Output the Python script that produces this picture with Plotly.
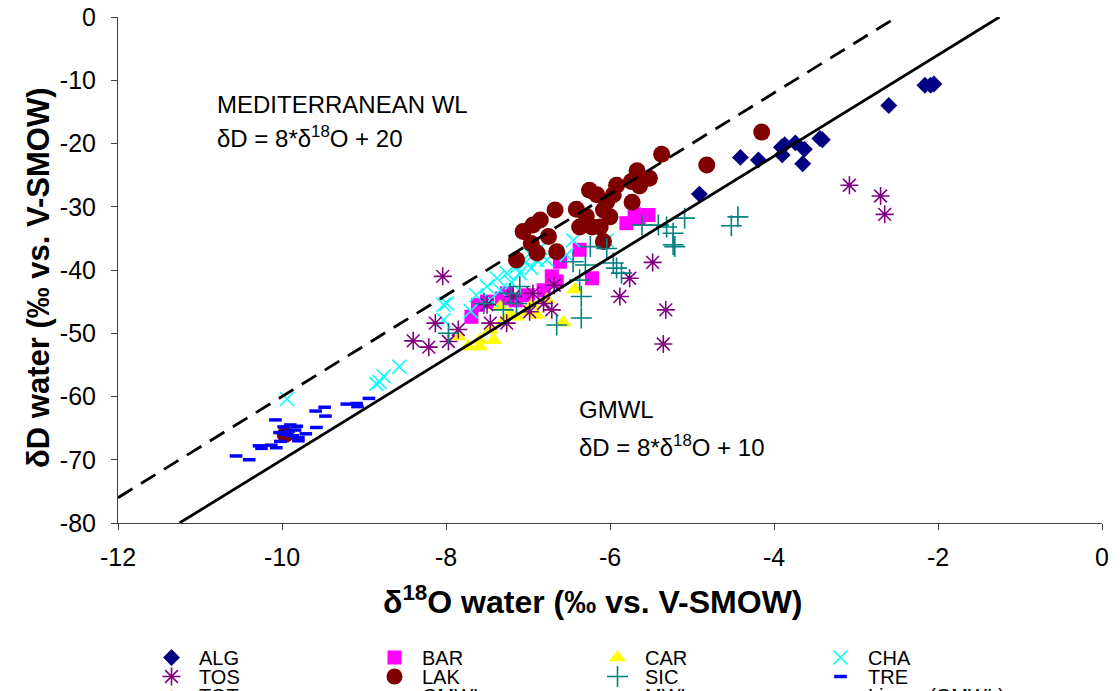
import plotly.graph_objects as go

# ---------------- data ----------------
alg_x = [-4.91, -4.41, -4.19, -3.91, -3.87, -3.90, -3.74, -3.63, -3.65, -3.44, -3.41, -2.60, -2.16, -2.09, -2.05]
alg_y = [-28.0, -22.2, -22.6, -20.6, -20.2, -21.8, -19.9, -20.9, -23.2, -19.2, -19.4, -14.0, -10.8, -10.8, -10.6]

bar_x = [-5.65, -5.53, -5.80, -5.70, -6.37, -6.61, -6.22, -6.71, -6.65, -6.81, -7.00, -7.26, -7.32, -7.61, -7.69, -7.50, -7.15]
bar_y = [-31.8, -31.3, -32.6, -31.2, -36.8, -38.7, -41.3, -41.0, -41.8, -43.2, -44.0, -43.7, -44.5, -45.5, -47.4, -45.0, -44.8]

car_x = [-6.43, -6.57, -6.77, -6.89, -7.02, -7.14, -7.34, -7.46, -7.59, -7.73, -7.85, -7.42, -7.59, -7.22, -6.95, -7.30]
car_y = [-43.1, -48.3, -44.7, -47.1, -46.6, -47.4, -45.8, -49.5, -51.1, -52.1, -50.5, -51.1, -52.1, -47.0, -45.5, -48.2]

cha_x = [-9.94, -8.81, -8.76, -8.57, -8.85, -8.03, -8.03, -7.99, -7.63, -7.50, -7.38, -7.26, -7.14, -7.02,
         -6.89, -6.77, -6.96, -6.53, -6.45, -6.04, -7.34, -7.46, -6.98, -7.10, -7.20, -6.85, -7.70]
cha_y = [-60.4, -57.7, -56.8, -55.3, -58.0, -45.5, -47.9, -45.3, -44.0, -42.6, -41.3, -40.5, -39.5, -38.7,
         -38.4, -38.4, -39.7, -37.6, -35.3, -35.3, -43.2, -44.7, -37.4, -40.5, -42.0, -36.5, -46.5]

tos_x = [-8.04, -8.13, -8.40, -8.21, -7.85, -7.97, -7.50, -7.46, -7.26, -6.98, -6.81, -6.71, -6.68, -6.94,
         -7.18, -5.76, -5.48, -5.88, -5.32, -5.35, -3.08, -2.70, -2.65]
tos_y = [-41.0, -48.4, -51.2, -52.2, -49.4, -51.3, -45.5, -48.4, -48.4, -46.6, -45.3, -46.3, -42.4, -43.7,
         -44.2, -41.3, -38.8, -44.2, -46.3, -51.7, -26.6, -28.3, -31.2]

lak_x = [-4.15, -4.82, -5.37, -5.67, -5.52, -5.64, -5.74, -5.92, -5.73, -6.00, -6.08, -6.25, -6.16, -5.96,
         -6.04, -6.41, -6.67, -6.08, -6.29, -6.37, -6.22, -6.12, -6.85, -6.94, -7.06, -6.75, -6.96, -6.65,
         -6.89, -7.14, -9.96]
lak_y = [-18.2, -23.4, -21.7, -24.3, -25.5, -26.7, -26.0, -26.6, -29.3, -31.6, -35.5, -27.4, -28.1, -28.1,
         -29.2, -30.4, -30.5, -30.5, -31.5, -33.2, -33.2, -33.2, -32.1, -32.9, -33.9, -34.7, -35.8, -37.1,
         -37.3, -38.4, -66.0]

sic_x = [-5.09, -5.21, -5.23, -5.31, -5.61, -5.41, -6.04, -6.24, -5.96, -5.92, -5.86, -6.35, -6.35, -6.65,
         -6.37, -6.30, -6.45, -7.10, -7.22, -7.14, -7.30, -7.97, -7.54, -4.44, -4.52, -5.23]
sic_y = [-31.8, -36.3, -34.2, -33.2, -32.9, -32.9, -36.6, -36.3, -38.9, -39.7, -40.5, -44.2, -47.6, -48.7,
         -41.6, -39.2, -38.7, -42.6, -43.7, -45.3, -46.3, -50.0, -45.3, -31.6, -33.0, -36.0]

tre_x = [-10.56, -10.40, -10.28, -10.25, -10.13, -10.07, -10.08, -10.03, -10.02, -9.98, -9.90, -9.82, -9.84,
         -9.80, -9.80, -9.71, -9.58, -9.59, -9.48, -9.47, -9.21, -9.09, -9.08, -8.94, -9.95, -9.92, -9.87]
tre_y = [-69.4, -70.0, -67.8, -68.2, -67.7, -68.1, -63.7, -65.7, -67.1, -64.8, -64.5, -64.7, -65.3,
         -66.5, -67.0, -65.9, -64.9, -62.3, -61.7, -63.1, -61.2, -61.1, -61.6, -60.3, -66.0, -65.5, -66.2]

# series listed in the legend without visible points in the plot area
tot_x = [None]
tot_y = [None]

# meteoric water lines (end points of δD = 8*δ18O + 20 and δD = 8*δ18O + 10 inside the axes)
mwl_x = [-12.0, -2.5]
mwl_y = [-76.0, 0.0]
gmwl_x = [-11.25, -1.25]
gmwl_y = [-80.0, 0.0]

x_ticks = [-12, -10, -8, -6, -4, -2, 0]
y_ticks = [0, -10, -20, -30, -40, -50, -60, -70, -80]

FONT = "Arial, 'Liberation Sans', sans-serif"

fig = go.Figure()

series = [
    ("ALG", alg_x, alg_y, dict(symbol="diamond", size=13, color="#000080"), "legend"),
    ("BAR", bar_x, bar_y, dict(symbol="square", size=14, color="#FF00FF"), "legend"),
    ("CAR", car_x, car_y, dict(symbol="triangle-up", size=15, color="#FFFF00"), "legend"),
    ("CHA", cha_x, cha_y, dict(symbol="x-thin-open", size=14, color="#00FFFF",
                               line=dict(width=1.6, color="#00FFFF")), "legend"),
    ("TOS", tos_x, tos_y, dict(symbol="asterisk-open", size=15, color="#800080",
                               line=dict(width=1.6, color="#800080")), "legend2"),
    ("LAK", lak_x, lak_y, dict(symbol="circle", size=17, color="#800000"), "legend2"),
    ("SIC", sic_x, sic_y, dict(symbol="cross-thin-open", size=15, color="#008080",
                               line=dict(width=1.6, color="#008080")), "legend2"),
    ("TRE", tre_x, tre_y, dict(symbol="line-ew-open", size=9, color="#0000FF",
                               line=dict(width=3.5, color="#0000FF")), "legend2"),
]
for name, xs, ys, mk, lg in series:
    fig.add_trace(go.Scatter(x=xs, y=ys, mode="markers", name=name, marker=mk, legend=lg))

fig.add_trace(go.Scatter(x=tot_x, y=tot_y, mode="markers", name="TOT", legend="legend3",
                         marker=dict(symbol="circle", size=10, color="#FF9900")))
fig.add_trace(go.Scatter(x=gmwl_x, y=gmwl_y, mode="lines", name="GMWL", legend="legend3",
                         line=dict(color="black", width=2.8)))
fig.add_trace(go.Scatter(x=mwl_x, y=mwl_y, mode="lines", name="MWL", legend="legend3",
                         line=dict(color="black", width=2.8, dash="17px,10px")))
fig.add_trace(go.Scatter(x=tot_x, y=tot_y, mode="lines", name="Linear (GMWL)", legend="legend3",
                         line=dict(color="black", width=2.8)))

axis_common = dict(
    showgrid=False, zeroline=False, showline=True, linecolor="#404040", linewidth=1,
    ticks="outside", ticklen=6, tickcolor="#404040", tickwidth=1,
    tickfont=dict(family=FONT, size=25, color="black"), mirror=False,
)

fig.update_xaxes(range=[-12, 0], tickvals=x_ticks, ticktext=[str(v) for v in x_ticks],
                 ticklabelstandoff=6, **axis_common)
fig.update_yaxes(range=[-80, 0], tickvals=y_ticks, ticktext=[str(v) for v in y_ticks],
                 ticklabelstandoff=10, **axis_common)

fig.add_annotation(x=(592 - 118) / 984, y=(523 - 600) / 506, xref="paper", yref="paper",
                   text="<b>δ<sup>18</sup>O water (‰ vs. V-SMOW)</b>", showarrow=False,
                   xanchor="center", yanchor="middle",
                   font=dict(family=FONT, size=32, color="black"))
fig.add_annotation(x=(38 - 118) / 984, y=(523 - 278) / 506, xref="paper", yref="paper",
                   text="<b>δD water (‰ vs. V-SMOW)</b>", showarrow=False, textangle=-90,
                   xanchor="center", yanchor="middle",
                   font=dict(family=FONT, size=31, color="black"))

ann_font = dict(family=FONT, size=24, color="black")
fig.add_annotation(x=-10.82, y=-13.8, xref="x", yref="y", text="MEDITERRANEAN WL",
                   showarrow=False, xanchor="left", yanchor="middle", font=ann_font)
fig.add_annotation(x=-10.82, y=-19.0, xref="x", yref="y", text="δD = 8*δ<sup>18</sup>O + 20",
                   showarrow=False, xanchor="left", yanchor="middle", font=ann_font)
fig.add_annotation(x=-6.40, y=-62.1, xref="x", yref="y", text="GMWL",
                   showarrow=False, xanchor="left", yanchor="middle", font=ann_font)
fig.add_annotation(x=-6.40, y=-67.8, xref="x", yref="y", text="δD = 8*δ<sup>18</sup>O + 10",
                   showarrow=False, xanchor="left", yanchor="middle", font=ann_font)

def legend_row(top_px):
    return dict(orientation="h", xref="container", yref="container",
                x=144 / 1120, y=1 - top_px / 691, xanchor="left", yanchor="top",
                entrywidth=163, entrywidthmode="pixels", itemwidth=45,
                font=dict(family=FONT, size=20, color="black"),
                bgcolor="rgba(0,0,0,0)", traceorder="normal")

fig.update_layout(
    width=1120, height=691,
    margin=dict(l=118, r=18, t=17, b=168, autoexpand=False),
    paper_bgcolor="white", plot_bgcolor="white",
    showlegend=True,
    legend=legend_row(638),
    legend2=legend_row(657),
    legend3=legend_row(676),
)

fig.write_html("out.html")
